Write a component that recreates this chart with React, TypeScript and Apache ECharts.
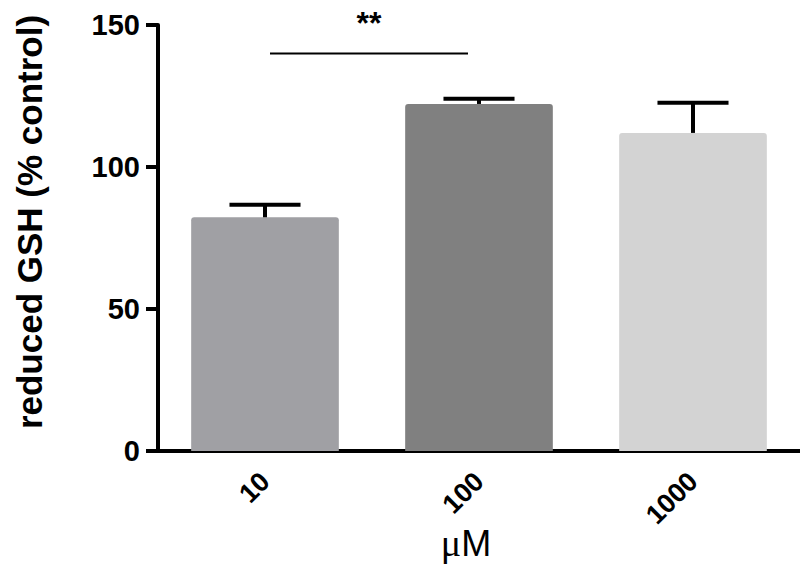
import React, { useEffect, useRef } from "react";
import * as echarts from "echarts";

const categories = ["10", "100", "1000"];
const means = [82.3, 122.2, 112.0];
const upperErrors = [86.7, 124.0, 122.6];
const barColors = ["#a0a0a4", "#808080", "#d3d3d3"];
const yTicks = { min: 0, max: 150, interval: 50 };
const significance = { from: 0, to: 1, level: 140, label: "**" };
const yAxisTitle = "reduced GSH (% control)";
const xAxisUnitPrefix = "μ";
const xAxisUnit = "M";

export default function App() {
  const ref = useRef<HTMLDivElement>(null);
  useEffect(() => {
    if (!ref.current) return;
    const chart = echarts.init(ref.current, null, { renderer: "svg" });
    const font = "Liberation Sans, Arial, sans-serif";
    chart.setOption({
      animation: false,
      backgroundColor: "#ffffff",
      grid: { left: 158, right: 0, top: 25, bottom: 118, containLabel: false },
      xAxis: {
        type: "category",
        data: categories,
        axisLine: { lineStyle: { color: "#000", width: 4 } },
        axisTick: { alignWithLabel: true, length: 12, lineStyle: { color: "#000", width: 4 } },
        axisLabel: {
          rotate: 45,
          margin: 26,
          color: "#000",
          fontSize: 27,
          fontWeight: "bold",
          fontFamily: font,
        },
      },
      yAxis: {
        type: "value",
        min: yTicks.min,
        max: yTicks.max,
        interval: yTicks.interval,
        splitLine: { show: false },
        axisLine: { show: true, lineStyle: { color: "#000", width: 4 } },
        axisTick: { show: true, length: 12, lineStyle: { color: "#000", width: 4 } },
        axisLabel: {
          margin: 18,
          color: "#000",
          fontSize: 29,
          fontWeight: "bold",
          fontFamily: font,
        },
      },
      series: [
        {
          type: "bar",
          barWidth: "69%",
          data: means.map((v, i) => ({
            value: v,
            itemStyle: { color: barColors[i], borderRadius: [3, 3, 0, 0] },
          })),
          z: 2,
        },
        {
          type: "custom",
          z: 3,
          data: means.map((m, i) => [i, m, upperErrors[i]]),
          renderItem: (params: any, api: any) => {
            const idx = api.value(0);
            const low = api.coord([idx, api.value(1)]);
            const high = api.coord([idx, api.value(2)]);
            const half = api.size([1, 0])[0] * 0.166;
            const st = { stroke: "#000", lineWidth: 4 };
            return {
              type: "group",
              children: [
                { type: "line", shape: { x1: high[0], y1: high[1], x2: low[0], y2: low[1] }, style: st },
                { type: "line", shape: { x1: high[0] - half, y1: high[1], x2: high[0] + half, y2: high[1] }, style: st },
              ],
            };
          },
        },
      ],
    });

    const p0 = chart.convertToPixel({ xAxisIndex: 0, yAxisIndex: 0 }, [significance.from, significance.level]) as number[];
    const p1 = chart.convertToPixel({ xAxisIndex: 0, yAxisIndex: 0 }, [significance.to, significance.level]) as number[];
    chart.setOption({
      graphic: [
        {
          type: "line",
          shape: { x1: p0[0] + 5, y1: p0[1], x2: p1[0] - 11, y2: p1[1] },
          style: { stroke: "#000", lineWidth: 2 },
        },
        {
          type: "text",
          x: (p0[0] + p1[0]) / 2 - 3,
          y: p0[1] - 46,
          style: {
            text: significance.label,
            font: `bold 32px ${font}`,
            fill: "#000",
            align: "center",
            verticalAlign: "top",
          },
        },
        {
          type: "text",
          x: 29,
          y: 222,
          rotation: Math.PI / 2,
          style: {
            text: yAxisTitle,
            font: `bold 35px ${font}`,
            fill: "#000",
            align: "center",
            verticalAlign: "middle",
          },
        },
        {
          type: "text",
          x: 466,
          y: 562,
          style: {
            text: `{mu|${xAxisUnitPrefix}}{m|${xAxisUnit}}`,
            fill: "#000",
            align: "center",
            verticalAlign: "bottom",
            rich: {
              mu: { fontFamily: "Liberation Serif, Times New Roman, serif", fontSize: 38, fill: "#000" },
              m: { fontFamily: font, fontSize: 36, fill: "#000" },
            },
          },
        },
      ],
    });
    return () => chart.dispose();
  }, []);
  return <div ref={ref} style={{ width: 800, height: 569, position: "fixed", left: 0, top: 0 }} />;
}
